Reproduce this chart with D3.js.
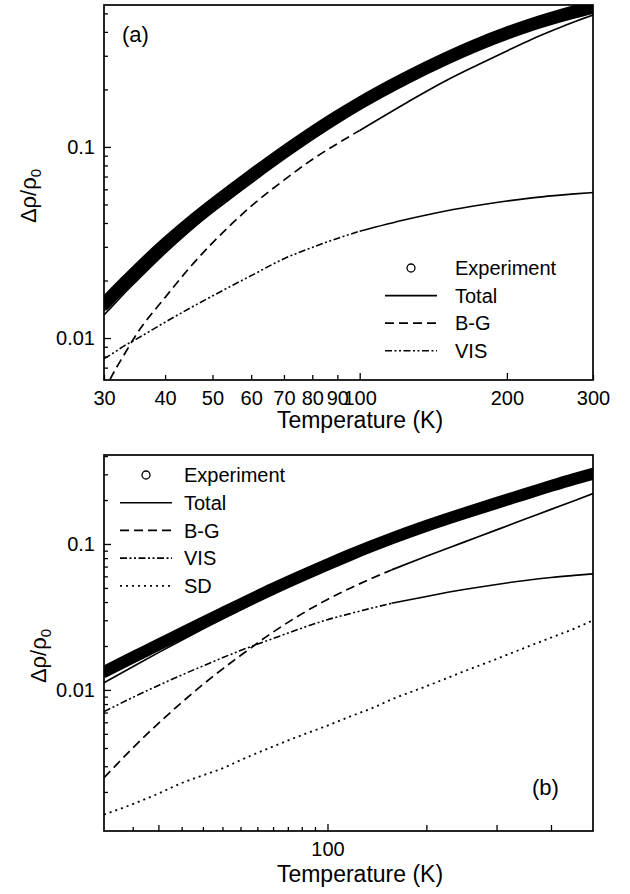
<!DOCTYPE html>
<html>
<head>
<meta charset="utf-8">
<script src="https://cdn.jsdelivr.net/npm/d3@7"></script>
<style>
  body { margin: 0; background: #fff; }
  svg { font-family: "Liberation Sans", Arial, sans-serif; }
</style>
</head>
<body>
<svg id="chart" width="630" height="894"></svg>
<script>
// ---- panel (a) ----
const tempA  = [30, 31, 33, 35, 40, 45, 50, 55, 60, 70, 80, 90, 100, 125, 150, 175, 200, 225, 250, 275, 300];
const expA   = [0.0150, 0.0164, 0.0193, 0.0224, 0.0309, 0.0400, 0.0496, 0.0597, 0.0705, 0.0938, 0.1185, 0.1438, 0.1693, 0.231, 0.290, 0.345, 0.394, 0.438, 0.476, 0.509, 0.538];
const totalA = [0.0132, 0.0144, 0.0171, 0.0199, 0.0278, 0.0365, 0.0458, 0.0555, 0.066, 0.089, 0.114, 0.139, 0.164, 0.226, 0.285, 0.340, 0.390, 0.435, 0.475, 0.510, 0.542];
const bgA    = [0.0052, 0.0062, 0.0082, 0.0105, 0.0163, 0.0235, 0.0315, 0.040, 0.049, 0.067, 0.086, 0.104, 0.122, 0.171, 0.222, 0.270, 0.318, 0.366, 0.410, 0.452, 0.490];
const visA   = [0.0078, 0.0082, 0.0091, 0.0099, 0.0121, 0.01435, 0.0166, 0.0189, 0.0212, 0.026, 0.0298, 0.0332, 0.0362, 0.0418, 0.0462, 0.0495, 0.0521, 0.0541, 0.0556, 0.0568, 0.0577];

// ---- panel (b) ----
const tempB  = [40, 45, 50, 55, 60, 65, 70, 80, 90, 100, 110, 120, 130, 150, 175, 200, 225, 250, 275, 297];
const expB   = [0.0133, 0.0167, 0.0204, 0.0245, 0.0289, 0.0336, 0.0386, 0.0493, 0.0605, 0.0722, 0.0845, 0.0968, 0.109, 0.133, 0.162, 0.191, 0.220, 0.250, 0.279, 0.303];
const totalB = [0.0112, 0.0144, 0.0180, 0.0219, 0.0261, 0.0306, 0.0354, 0.0459, 0.0572, 0.0692, 0.0816, 0.0941, 0.1065, 0.1305, 0.160, 0.190, 0.220, 0.249, 0.279, 0.307];
const bgB    = [0.0025, 0.0040, 0.0059, 0.0082, 0.0109, 0.0139, 0.0172, 0.0249, 0.0332, 0.0417, 0.050, 0.0582, 0.0664, 0.0823, 0.1029, 0.1249, 0.1481, 0.1725, 0.198, 0.2214];
const visB   = [0.0071, 0.00888, 0.01074, 0.01265, 0.0146, 0.0166, 0.01863, 0.0225, 0.0265, 0.0303, 0.0334, 0.0364, 0.0392, 0.0437, 0.0487, 0.0528, 0.0562, 0.0589, 0.0609, 0.0624];
const sdB    = [0.0014, 0.00165, 0.00195, 0.0023, 0.0026, 0.0029, 0.0033, 0.0041, 0.0049, 0.0057, 0.0066, 0.0075, 0.0086, 0.0106, 0.0134, 0.0163, 0.0195, 0.0228, 0.0263, 0.030];

// tick values
const xLabelsA = [30, 40, 50, 60, 70, 80, 90, 100, 200, 300];
const xMinorB  = [45, 50, 55, 60, 65, 70, 75, 80, 85, 90, 95, 150, 200, 250];
const xLabelsB = [100];
const yLabels  = [0.01, 0.1];
const yMinorA  = [0.007, 0.008, 0.009, 0.02, 0.03, 0.04, 0.05, 0.06, 0.07, 0.08, 0.09, 0.2, 0.3, 0.4, 0.5];
const yMinorB  = [0.002, 0.003, 0.004, 0.005, 0.006, 0.007, 0.008, 0.009, 0.02, 0.03, 0.04, 0.05, 0.06, 0.07, 0.08, 0.09, 0.2, 0.3, 0.4];

const styles = {
  total: { dash: null, width: 1.6 },
  bg:    { dash: "9,5", width: 1.7 },
  vis:   { dash: "7,2.5,2,2.5,2,2.5", width: 1.6 },
  sd:    { dash: "2,4", width: 1.8 }
};

const svg = d3.select("#chart");

function drawPanel(p) {
  const x = d3.scaleLog().domain(p.xDomain).range([p.left, p.right]);
  const y = d3.scaleLog().domain(p.yDomain).range([p.bottom, p.top]);

  svg.append("clipPath").attr("id", p.id + "-clip")
    .append("rect")
      .attr("x", p.left).attr("y", p.top)
      .attr("width", p.right - p.left).attr("height", p.bottom - p.top);

  const g = svg.append("g");

  // x axis: labelled ticks, then unlabelled ones
  const xAxis = g.append("g")
    .attr("transform", `translate(0,${p.bottom})`)
    .call(d3.axisBottom(x).tickValues(p.xLabels).tickFormat(d3.format("d"))
      .tickSize(-6).tickPadding(11).tickSizeOuter(0));
  xAxis.selectAll(".tick line").attr("y2", d => (d === 100 || d === 200) ? -7 : -5);

  if (p.xMinor) {
    g.append("g")
      .attr("transform", `translate(0,${p.bottom})`)
      .call(d3.axisBottom(x).tickValues(p.xMinor).tickFormat("").tickSize(-4).tickSizeOuter(0))
      .selectAll(".tick line").attr("y2", d => d % 50 === 0 ? -6 : -4);
  }

  g.append("g")
    .attr("transform", `translate(${p.left},0)`)
    .call(d3.axisLeft(y).tickValues(yLabels).tickFormat(d => d === 0.1 ? "0.1" : "0.01")
      .tickSize(-7).tickPadding(9).tickSizeOuter(0));
  g.append("g")
    .attr("transform", `translate(${p.left},0)`)
    .call(d3.axisLeft(y).tickValues(p.yMinor).tickFormat("").tickSize(-4).tickSizeOuter(0));

  g.selectAll(".domain").remove();
  g.selectAll(".tick line").attr("stroke", "#000").attr("stroke-width", 1.3);
  g.selectAll(".tick text").attr("font-size", 20).attr("fill", "#000");
  g.selectAll("g").attr("font-family", null).attr("font-size", null);

  // frame
  g.append("rect")
    .attr("x", p.left).attr("y", p.top)
    .attr("width", p.right - p.left).attr("height", p.bottom - p.top)
    .attr("fill", "none").attr("stroke", "#000").attr("stroke-width", 1.7);

  const line = d3.line()
    .x(d => x(d.t))
    .y(d => y(d.v))
    .curve(d3.curveMonotoneX);

  const plot = g.append("g").attr("clip-path", `url(#${p.id}-clip)`);

  // experiment: dense open circles read as a thick band
  const expData = p.temps.map((t, i) => ({ t, v: p.exp[i] }));
  plot.append("path")
    .datum(expData)
    .attr("fill", "none").attr("stroke", "#000")
    .attr("stroke-width", p.bandWidth).attr("stroke-linecap", "round")
    .attr("d", line);

  // model curves; dashed patterns merge into a solid look above the cut temperature
  p.series.forEach(s => {
    const pts = p.temps.map((t, i) => ({ t, v: s.values[i] }));
    const st = styles[s.key];
    const parts = s.cut
      ? [pts.filter(d => d.t <= s.cut), pts.filter(d => d.t >= s.cut)]
      : [pts];
    parts.forEach((part, k) => {
      plot.append("path")
        .datum(part)
        .attr("fill", "none").attr("stroke", "#000")
        .attr("stroke-width", st.width)
        .attr("stroke-dasharray", k === 0 ? st.dash : null)
        .attr("d", line);
    });
  });

  // legend
  const lg = g.append("g");
  const rows = ["exp"].concat(p.series.map(s => s.key));
  const names = { exp: "Experiment", total: "Total", bg: "B-G", vis: "VIS", sd: "SD" };
  rows.forEach((key, i) => {
    const yy = p.legend.y + i * p.legend.dy;
    if (key === "exp") {
      lg.append("circle")
        .attr("cx", (p.legend.x0 + p.legend.x1) / 2).attr("cy", yy).attr("r", 4)
        .attr("fill", "none").attr("stroke", "#000").attr("stroke-width", 1.3);
    } else {
      lg.append("line")
        .attr("x1", p.legend.x0).attr("x2", p.legend.x1)
        .attr("y1", yy).attr("y2", yy)
        .attr("stroke", "#000").attr("stroke-width", styles[key].width)
        .attr("stroke-dasharray", styles[key].dash);
    }
    lg.append("text")
      .attr("x", p.legend.tx).attr("y", yy).attr("dy", "0.36em")
      .attr("font-size", 20).text(names[key]);
  });

  // panel tag
  g.append("text").attr("x", p.tag.x).attr("y", p.tag.y)
    .attr("font-size", 22).text(p.tag.text);

  // axis titles
  g.append("text")
    .attr("x", 360).attr("y", p.xTitleY)
    .attr("text-anchor", "middle").attr("font-size", 23)
    .text("Temperature (K)");

  const yt = g.append("text")
    .attr("transform", `translate(${p.yTitle.x},${p.yTitle.y}) rotate(-90)`)
    .attr("text-anchor", "middle").attr("font-size", 22);
  yt.append("tspan").text("Δρ/ρ");
  yt.append("tspan").attr("font-size", 15).attr("dy", "0.3em").text("0");
}

drawPanel({
  id: "a",
  left: 104, right: 593, top: 5, bottom: 380,
  xDomain: [30, 300], yDomain: [0.00603, 0.553],
  xLabels: xLabelsA, xMinor: null, yMinor: yMinorA,
  temps: tempA, exp: expA, bandWidth: 13,
  series: [
    { key: "total", values: totalA },
    { key: "bg", values: bgA, cut: 100 },
    { key: "vis", values: visA, cut: 100 }
  ],
  legend: { x0: 385, x1: 437, tx: 455, y: 268, dy: 27.6 },
  tag: { x: 122, y: 42, text: "(a)" },
  xTitleY: 428,
  yTitle: { x: 36, y: 196 }
});

drawPanel({
  id: "b",
  left: 104, right: 593, top: 455, bottom: 831,
  xDomain: [40, 297], yDomain: [0.00108, 0.407],
  xLabels: xLabelsB, xMinor: xMinorB, yMinor: yMinorB,
  temps: tempB, exp: expB, bandWidth: 12,
  series: [
    { key: "total", values: totalB },
    { key: "bg", values: bgB, cut: 130 },
    { key: "vis", values: visB, cut: 130 },
    { key: "sd", values: sdB }
  ],
  legend: { x0: 120, x1: 172, tx: 184, y: 475, dy: 27.7 },
  tag: { x: 532, y: 795, text: "(b)" },
  xTitleY: 882,
  yTitle: { x: 46, y: 656 }
});
</script>
</body>
</html>
